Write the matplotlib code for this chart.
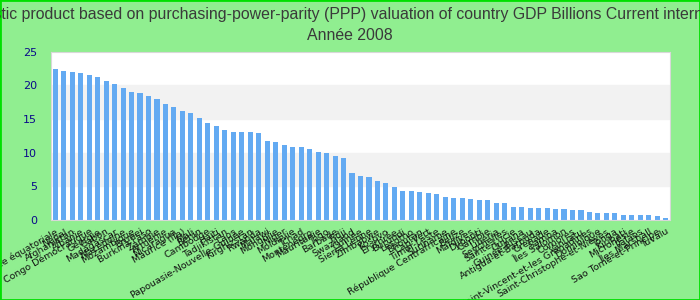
import matplotlib
matplotlib.use("Agg")
import matplotlib.pyplot as plt
from matplotlib.patches import Rectangle

title_line1 = ("Gross domestic product based on purchasing-power-parity (PPP) valuation "
               "of country GDP Billions Current international dollar")
title_line2 = "Année 2008"

countries = [
    "Guinée équatoriale", "Népal", "Afghanistan", "Albanie", "Congo Démocratique",
    "Géorgie", "Gabon", "Madagascar", "Macédoine", "Mozambique",
    "Brunei", "Burkina Faso", "Zambie", "Arménie", "Nicaragua",
    "Maurice (Île)", "Mali", "Bénin", "Cambodge", "Haïti",
    "Tadjikistan", "Laos", "Papouasie-Nouvelle-Guinée", "Kirghizstan", "Rwanda",
    "Malawi", "Mongolie", "Niger", "Moldavie", "Tchad",
    "Monténégro", "Mauritanie", "Togo", "Barbade", "Fidji",
    "Swaziland", "Guinée", "Sierra Leone", "Zimbabwe", "Kosovo",
    "Érythrée", "Burundi", "Lesotho", "Bhoutan", "Cap-Vert",
    "Timor-Leste", "Suriname", "République Centrafricaine", "Belize", "Maldives",
    "Djibouti", "Gambie", "Libéria", "Seychelles", "Sainte-Lucie",
    "Guyana", "Guinée-Bissau", "Antigua-et-Barbuda", "Grenade", "Samoa",
    "Îles Salomon", "Comores", "Vanuatu", "Saint-Vincent-et-les Grenadines", "Dominique",
    "Saint-Christophe-et-Niévès", "Tonga", "Kiribati", "Micronésie", "Palaos",
    "Îles Marshall", "Sao Tomé-et-Principe", "Tuvalu",
]

values = [
    22.4, 22.1, 22.0, 21.8, 21.5, 21.2, 20.6, 20.2, 19.6, 19.0,
    18.9, 18.4, 18.0, 17.2, 16.8, 16.2, 15.9, 15.1, 14.4, 14.0,
    13.4, 13.1, 13.1, 13.1, 12.9, 11.7, 11.6, 11.1, 10.8, 10.8,
    10.5, 10.1, 9.95, 9.5, 9.2, 7.0, 6.5, 6.4, 5.8, 5.5,
    4.9, 4.3, 4.3, 4.2, 4.0, 3.9, 3.4, 3.3, 3.3, 3.1,
    3.0, 2.97, 2.52, 2.52, 1.93, 1.93, 1.78, 1.78, 1.78, 1.63,
    1.63, 1.49, 1.49, 1.19, 1.04, 1.04, 1.04, 0.74, 0.74, 0.74,
    0.74, 0.59, 0.30,
]

yticks = [0, 5, 10, 15, 20, 25]

fig = plt.figure(figsize=(7, 3), dpi=100, facecolor="#90ee90")
fig.patches.append(Rectangle((0, 0), 1, 1, transform=fig.transFigure,
                             fill=False, edgecolor="#00e000", linewidth=2))
ax = fig.add_axes([51 / 700, 1 - 220 / 300, 619 / 700, 168.5 / 300])
ax.set_facecolor("white")

# alternating bands
for lo in (5, 15):
    ax.axhspan(lo, lo + 5, color="#f2f2f2", zorder=0)

x = list(range(len(values)))
ax.bar(x, values, width=0.6, color="#63aaf2", zorder=2)

ax.set_xlim(-0.5, len(values) - 0.5)
ax.set_ylim(0, 25)
ax.set_yticks(yticks)
ax.set_yticklabels([str(t) for t in yticks], color="#0a0a8a", fontsize=8)
ax.set_xticks(x)
ax.set_xticklabels(countries, rotation=30, ha="right", rotation_mode="anchor",
                   fontsize=6.8, color="#111111")
ax.tick_params(axis="both", length=0)
ax.tick_params(axis="y", pad=10)
ax.tick_params(axis="x", pad=5)
for s in ax.spines.values():
    s.set_color("#d8d8d8")

fig.text(0.5, 1 - 14 / 300, title_line1, ha="center", va="center",
         fontsize=11.4, color="#3a3a3a", family="Liberation Sans")
fig.text(0.5, 1 - 36 / 300, title_line2, ha="center", va="center",
         fontsize=11.4, color="#3a3a3a", family="Liberation Sans")

fig.savefig("out.png", dpi=100, facecolor=fig.get_facecolor())
